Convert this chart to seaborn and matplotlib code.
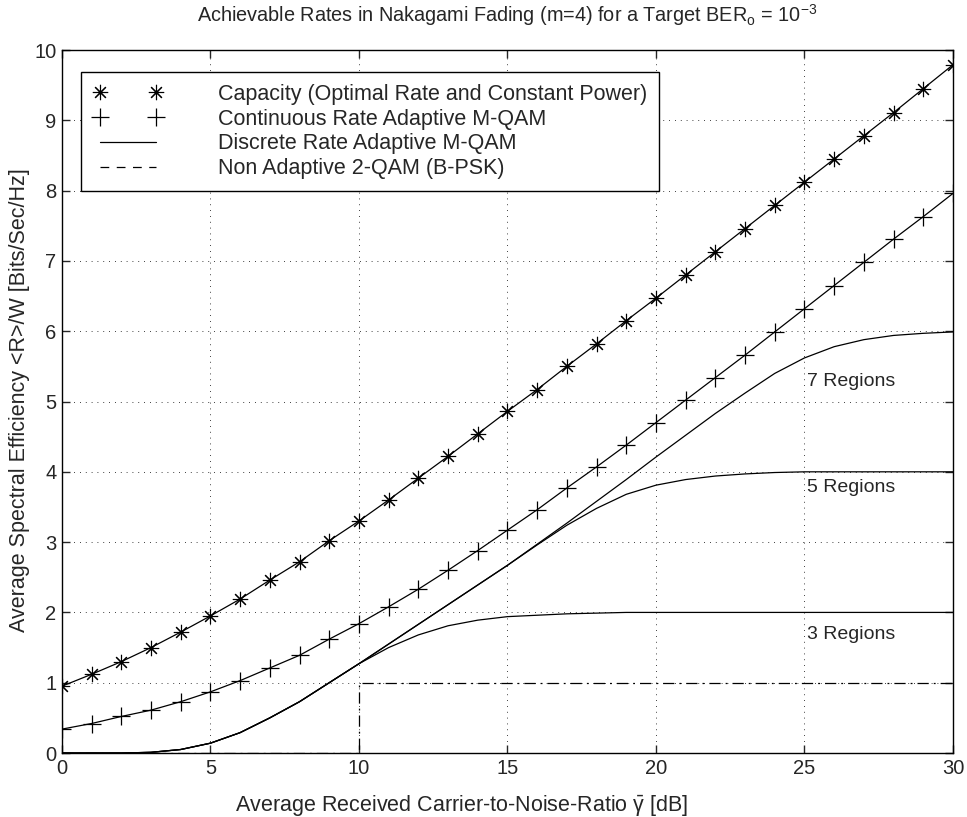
import numpy as np
import seaborn as sns
from matplotlib import pyplot as plt
from matplotlib.lines import Line2D

# SNR grid [dB]
snr = list(range(0, 31))

# Capacity (optimal rate, constant power)
capacity = [0.95, 1.12, 1.30, 1.50, 1.72, 1.95, 2.19, 2.46, 2.72, 3.02,
            3.30, 3.60, 3.91, 4.22, 4.54, 4.86, 5.17, 5.50, 5.82, 6.15,
            6.47, 6.80, 7.13, 7.46, 7.79, 8.12, 8.45, 8.78, 9.11, 9.45, 9.79]

# Continuous rate adaptive M-QAM
continuous = [0.34, 0.42, 0.52, 0.61, 0.73, 0.87, 1.03, 1.21, 1.39, 1.62,
              1.84, 2.08, 2.33, 2.60, 2.88, 3.17, 3.46, 3.77, 4.07, 4.38,
              4.70, 5.02, 5.34, 5.66, 5.99, 6.32, 6.65, 6.98, 7.31, 7.63, 7.96]

# Discrete rate adaptive M-QAM
discrete_7 = [0.0, 0.0, 0.0, 0.01, 0.05, 0.14, 0.29, 0.50, 0.73, 1.00,
              1.27, 1.55, 1.83, 2.11, 2.39, 2.67, 2.97, 3.27, 3.58, 3.89,
              4.21, 4.52, 4.83, 5.12, 5.40, 5.62, 5.78, 5.88, 5.94, 5.97, 5.99]
discrete_5 = [0.0, 0.0, 0.0, 0.01, 0.05, 0.14, 0.29, 0.50, 0.73, 1.00,
              1.27, 1.55, 1.83, 2.11, 2.39, 2.67, 2.96, 3.24, 3.48, 3.68,
              3.81, 3.89, 3.94, 3.97, 3.99, 4.00, 4.00, 4.00, 4.00, 4.00, 4.00]
discrete_3 = [0.0, 0.0, 0.0, 0.01, 0.05, 0.14, 0.29, 0.50, 0.73, 1.00,
              1.27, 1.50, 1.68, 1.81, 1.89, 1.94, 1.96, 1.98, 1.99, 2.00,
              2.00, 2.00, 2.00, 2.00, 2.00, 2.00, 2.00, 2.00, 2.00, 2.00, 2.00]

# Non adaptive BPSK (step at 10 dB)
bpsk_x = [0, 10, 10, 30]
bpsk_y = [0, 0, 1, 1]

region_labels = ["7 Regions", "5 Regions", "3 Regions"]
region_label_pos = [(25.1, 5.28), (25.1, 3.78), (25.1, 1.68)]

sns.set_style("ticks")
plt.rcParams['font.family'] = ['Liberation Sans', 'DejaVu Sans']
plt.rcParams['mathtext.fontset'] = 'custom'
plt.rcParams['mathtext.rm'] = 'Liberation Sans'
plt.rcParams['mathtext.it'] = 'Liberation Sans'

fig = plt.figure(figsize=(9.67, 8.17), dpi=100)
ax = fig.add_axes([0.064, 0.0783, 0.9215, 0.8605])

lw = 0.9
star = (8, 2, 0)
sns.lineplot(x=snr, y=capacity, ax=ax, color='black', lw=lw)
sns.lineplot(x=snr, y=capacity, ax=ax, color='black', lw=0, marker=star,
             markersize=11, mew=0.8, mec='black', mfc='black')
sns.lineplot(x=snr, y=continuous, ax=ax, color='black', lw=lw)
sns.lineplot(x=snr, y=continuous, ax=ax, color='black', lw=0, marker='+',
             markersize=13, mew=0.9, mec='black')
for d in (discrete_7, discrete_5, discrete_3):
    sns.lineplot(x=snr, y=d, ax=ax, color='black', lw=lw)
sns.lineplot(x=bpsk_x, y=bpsk_y, ax=ax, color='black', lw=lw,
             linestyle=(0, (9, 4, 1.5, 4)), sort=False, estimator=None)

for txt, (tx, ty) in zip(region_labels, region_label_pos):
    ax.text(tx, ty, txt, fontsize=14, va='center', ha='left')

ax.set_xlim(0, 30)
ax.set_ylim(0, 10)
ax.set_xticks(range(0, 31, 5))
ax.set_yticks(range(0, 11))
ax.tick_params(direction='in', length=6, width=1, top=True, right=True,
               labelsize=14.5, pad=4)
for s in ax.spines.values():
    s.set_linewidth(1.0)
    s.set_color('black')
ax.grid(True, color='black', linestyle=(0, (1, 6)), linewidth=0.6)

ax.set_xlabel(r"Average Received Carrier-to-Noise-Ratio $\bar{\gamma}$ [dB]", fontsize=15.5)
ax.xaxis.set_label_coords(0.449, -0.058)
ax.set_ylabel("Average Spectral Efficiency <R>/W [Bits/Sec/Hz]", fontsize=15.5)
ax.yaxis.set_label_coords(-0.036, 0.502)
ax.set_title(r"Achievable Rates in Nakagami Fading (m=4) for a Target BER$_o$ = 10$^{-3}$",
             fontsize=14.3, pad=20)

handles = [
    Line2D([], [], color='black', lw=0, marker=star, markersize=11, mew=0.8, mfc='black'),
    Line2D([], [], color='black', lw=0, marker='+', markersize=13, mew=0.9),
    Line2D([], [], color='black', lw=lw),
    Line2D([], [], color='black', lw=lw, linestyle=(0, (7, 6))),
]
labels = ["Capacity (Optimal Rate and Constant Power)",
          "Continuous Rate Adaptive M-QAM",
          "Discrete Rate Adaptive M-QAM",
          "Non Adaptive 2-QAM (B-PSK)"]
leg = ax.legend(handles, labels, loc='upper left', bbox_to_anchor=(0.022, 0.969),
                fontsize=15.5, numpoints=2, handlelength=3.2, handletextpad=2.6,
                labelspacing=0.18, borderaxespad=0, borderpad=0.55,
                fancybox=False, framealpha=1, edgecolor='black')
leg.get_frame().set_linewidth(1.0)

fig.savefig("out.png", dpi=100, facecolor='white')
